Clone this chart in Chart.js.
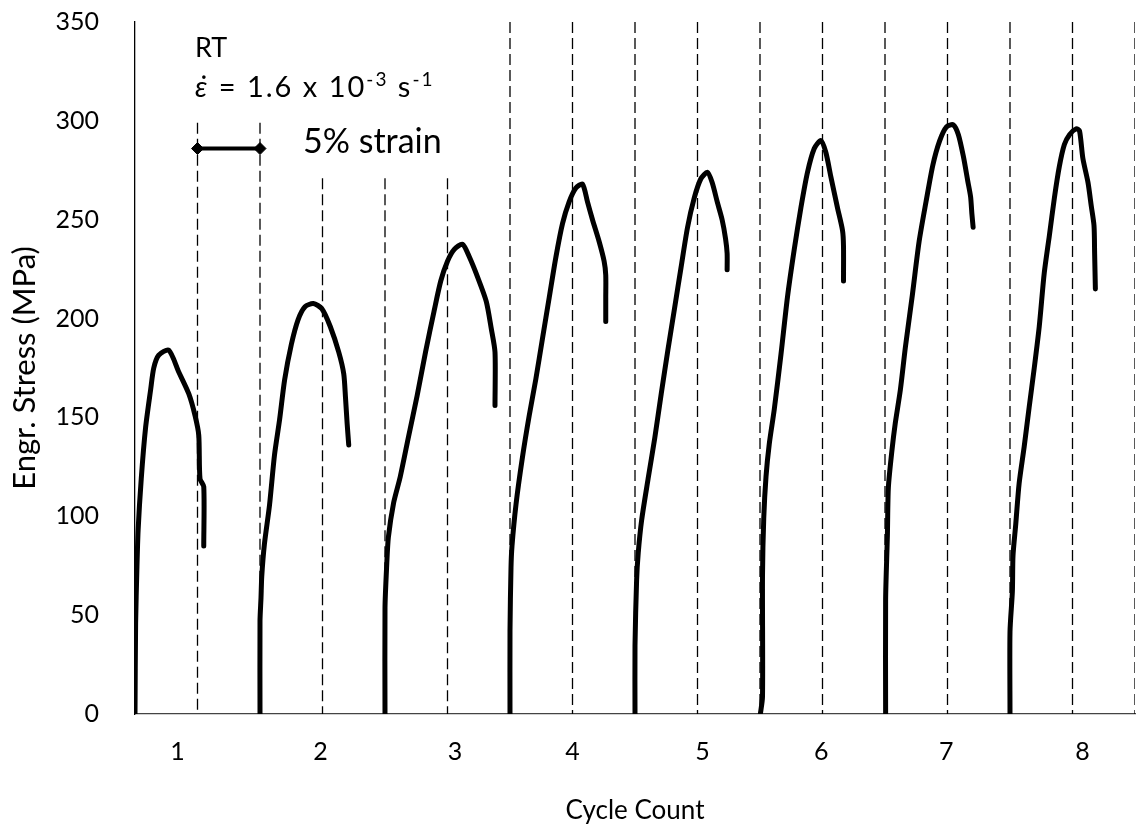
<!DOCTYPE html>
<html>
<head>
<meta charset="utf-8">
<script src="https://cdn.jsdelivr.net/npm/chart.js@4.4.1/dist/chart.umd.min.js"></script>
<style>
  html, body { margin: 0; padding: 0; background: #fff; }
</style>
</head>
<body>
<canvas id="myChart" width="1142" height="831"></canvas>
<script>
// x axis is strain in %, each cycle takes 10 %
const cycleLabels = ["1", "2", "3", "4", "5", "6", "7", "8"];
const cycleTickPos = [3.4, 14.85, 25.6, 35, 45.4, 54.9, 64.9, 75.8];
const yMin = 0, yMax = 350, yStep = 50;

// stress-strain curve of every cycle (strain %, stress MPa)
const strain1 = [0, 0.05, 0.15, 0.25, 0.5, 0.85, 1.25, 1.5, 1.9, 2.7, 3.5, 4.3, 4.8, 5.1, 5.2, 5.5, 5.5];
const stress1 = [0, 46, 73, 93, 119, 145, 164, 175, 181.5, 184, 173, 162, 151, 141, 119, 115, 85];
const strain2 = [10, 10, 10.08, 10.14, 10.35, 10.76, 11.16, 11.57, 11.97, 12.51, 13.05, 13.6, 14.27, 14.95, 15.62, 16.3, 16.7, 16.84, 16.97, 17.1];
const stress2 = [0, 47, 58.7, 69.5, 85.7, 105.6, 131, 149, 169, 187, 199.5, 206, 207.6, 205, 196, 183, 172, 160, 147, 136];
const strain3 = [20, 20, 20.14, 20.27, 20.68, 21.22, 21.89, 22.57, 23.24, 23.92, 24.46, 25.0, 25.54, 26.2, 26.76, 27.43, 28.1, 28.5, 28.8, 28.8];
const stress3 = [0, 53.7, 75.8, 89.4, 106.5, 120, 140.5, 161, 183, 203.6, 219, 229, 235, 237.6, 231, 220.6, 208.7, 195, 183, 156];
const strain4 = [30, 30, 30.08, 30.16, 30.48, 31.0, 31.54, 32.07, 32.6, 33.14, 33.67, 34.2, 34.73, 35.27, 35.8, 36.2, 36.6, 37.13, 37.53, 37.66, 37.66, 37.66];
const stress4 = [0, 42, 74, 85, 106, 130, 151, 169.5, 190, 210.7, 231, 248, 259, 266, 268, 259, 250, 239, 229, 222, 210.7, 198.5];
const strain5 = [40, 40, 40.13, 40.26, 40.53, 41.05, 41.58, 42.1, 42.63, 43.16, 43.68, 44.2, 44.74, 45.26, 45.8, 46.18, 46.58, 46.97, 47.24, 47.37, 47.37];
const stress5 = [0, 34.6, 68, 81.5, 98, 119, 139.5, 162, 184, 205, 225.7, 246, 261, 270.6, 274, 268.7, 259, 250, 240.6, 233, 224.7];
const strain6 = [50.03, 50.2, 50.2, 50.3, 50.48, 50.74, 51.14, 51.68, 52.2, 52.74, 53.27, 53.8, 54.34, 54.87, 55.27, 55.66, 56.2, 56.6, 56.68, 56.68];
const stress6 = [0, 8.8, 70, 99, 120, 136.5, 154, 182, 211, 235, 256, 274, 286, 290, 284, 272, 256, 244.6, 236.7, 219];
const strain7 = [60.05, 60.05, 60.19, 60.27, 60.55, 60.82, 61.23, 61.64, 62.19, 62.73, 63.28, 63.83, 64.37, 64.92, 65.46, 65.87, 66.28, 66.62, 66.85, 66.95, 67.05];
const stress7 = [0, 58, 90, 114.6, 133, 147, 164, 186, 212, 239, 259, 277.7, 289.9, 297, 298, 293, 281.7, 269.6, 261.5, 253, 246.2];
const strain8 = [70, 70, 70.19, 70.24, 70.46, 70.73, 71.13, 71.53, 71.94, 72.34, 72.74, 73.15, 73.55, 73.95, 74.35, 74.76, 75.3, 75.56, 75.83, 76.24, 76.5, 76.72, 76.77, 76.83];
const stress8 = [0, 41.6, 62, 80, 96, 116.6, 135, 155, 175, 196, 223, 242, 261, 277, 288, 293, 296, 295, 281, 268.8, 257, 247, 233, 215];

// dashed guide lines every 5 % strain, and where each one stops at the top
const gridStrain = [5, 10, 15, 20, 25, 30, 35, 40, 45, 50, 55, 60, 65, 70, 75, 80];
const gridTop = [299, 299, 271, 271, 271, 350, 350, 350, 350, 350, 350, 350, 350, 350, 350, 350];

// "5% strain" scale bar
const barStrain = [5, 10];
const barStress = [286, 286];

const FONT = "Lato, 'Open Sans', sans-serif";

const curves = [
  [strain1, stress1], [strain2, stress2], [strain3, stress3], [strain4, stress4],
  [strain5, stress5], [strain6, stress6], [strain7, stress7], [strain8, stress8],
];

const curveSets = curves.map(function (c, i) {
  return {
    label: "Cycle " + (i + 1),
    data: c[0].map(function (x, j) { return { x: x, y: c[1][j] }; }),
    borderColor: "#000",
    borderWidth: 5,
    borderCapStyle: "round",
    borderJoinStyle: "round",
    pointRadius: 0,
    tension: 0.25,
    order: 1,
  };
});

const gridData = [];
gridStrain.forEach(function (g, i) {
  gridData.push({ x: g, y: gridTop[i] }, { x: g, y: 0 }, { x: g, y: null });
});

const gridSet = {
  label: "grid",
  data: gridData,
  borderColor: "#000",
  borderWidth: 1.3,
  borderDash: [11, 5],
  pointRadius: 0,
  spanGaps: false,
  order: 3,
};

const barSet = {
  label: "bar",
  data: barStrain.map(function (x, j) { return { x: x, y: barStress[j] }; }),
  borderColor: "#000",
  borderWidth: 4,
  pointStyle: "rectRot",
  pointRadius: 6,
  pointBackgroundColor: "#000",
  pointBorderColor: "#000",
  pointBorderWidth: 1,
  order: 0,
};

// text notes in the top left corner
const notes = {
  id: "notes",
  afterDatasetsDraw(chart) {
    const ctx = chart.ctx;
    ctx.save();
    ctx.fillStyle = "#000";
    ctx.textBaseline = "alphabetic";
    ctx.textAlign = "left";
    ctx.font = "27px " + FONT;
    ctx.fillText("RT", 195, 57);
    ctx.letterSpacing = "2px";
    const parts = [
      ["\u03b5\u0307", "italic 29px " + FONT, 0],
      [" = 1.6 x 10", "29px " + FONT, 0],
      ["-3", "19px " + FONT, -11],
      [" s", "29px " + FONT, 0],
      ["-1", "19px " + FONT, -11],
    ];
    let x = 195;
    parts.forEach(function (p) {
      ctx.font = p[1];
      ctx.fillText(p[0], x, 97 + p[2]);
      x += ctx.measureText(p[0]).width;
    });
    ctx.letterSpacing = "0px";
    ctx.font = "34px " + FONT;
    ctx.fillText("5% strain", 303, 153);
    ctx.restore();
  },
};

const config = {
  type: "line",
  data: { datasets: curveSets.concat([gridSet, barSet]) },
  options: {
    responsive: false,
    animation: false,
    layout: { padding: { top: 22, right: 7, bottom: 0, left: 0 } },
    plugins: {
      legend: { display: false },
      tooltip: { enabled: false },
    },
    scales: {
      x: {
        type: "linear",
        min: 0,
        max: 80,
        grid: { display: false },
        border: { display: true, color: "#444", width: 1.3 },
        afterBuildTicks: function (axis) {
          axis.ticks = cycleTickPos.map(function (v) { return { value: v }; });
        },
        afterFit: function (axis) {
          axis.height = 117;
          axis.paddingLeft = 0;
          axis.paddingRight = 0;
        },
        ticks: {
          autoSkip: false,
          maxRotation: 0,
          padding: 15,
          color: "#000",
          font: { family: FONT, size: 25 },
          callback: function (value, index) { return cycleLabels[index]; },
        },
        title: {
          display: true,
          text: "Cycle Count",
          color: "#000",
          font: { family: FONT, size: 26 },
          padding: { top: 0, bottom: 5 },
        },
      },
      y: {
        min: yMin,
        max: yMax,
        grid: { display: false },
        border: { display: true, color: "#000", width: 1.3 },
        afterFit: function (axis) {
          axis.width = 135;
          axis.paddingTop = 0;
          axis.paddingBottom = 0;
        },
        ticks: {
          stepSize: yStep,
          padding: 28,
          color: "#000",
          font: { family: FONT, size: 25 },
        },
        title: {
          display: true,
          text: "Engr. Stress (MPa)",
          color: "#000",
          font: { family: FONT, size: 31 },
          padding: { top: 6, bottom: 0 },
        },
      },
    },
  },
  plugins: [notes],
};

const myChart = new Chart(document.getElementById("myChart"), config);
</script>
</body>
</html>
